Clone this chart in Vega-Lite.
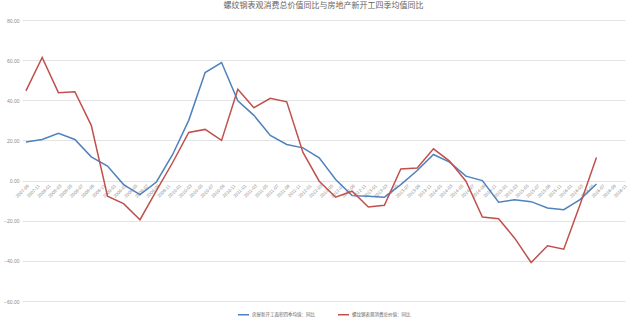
{
  "$schema": "https://vega.github.io/schema/vega-lite/v6.json",
  "width": 603,
  "height": 281,
  "autosize": {"type": "none"},
  "padding": {"left": 22, "top": 20, "right": 15, "bottom": 20},
  "background": "white",
  "title": {"text": "螺纹钢表观消费总价值同比与房地产新开工四季均值同比", "fontSize": 8, "font": "Noto Sans CJK SC", "fontWeight": "normal", "color": "#666666", "offset": 8},
  "data": {"values": [
    {"date": "2007-09-01", "房屋新开工面积四季均值：同比": 19.2, "螺纹钢表观消费总价值：同比": 44.7},
    {"date": "2007-12-01", "房屋新开工面积四季均值：同比": 20.5, "螺纹钢表观消费总价值：同比": 61.3},
    {"date": "2008-03-01", "房屋新开工面积四季均值：同比": 23.5, "螺纹钢表观消费总价值：同比": 43.8},
    {"date": "2008-06-01", "房屋新开工面积四季均值：同比": 20.5, "螺纹钢表观消费总价值：同比": 44.3},
    {"date": "2008-09-01", "房屋新开工面积四季均值：同比": 11.8, "螺纹钢表观消费总价值：同比": 27.5},
    {"date": "2008-12-01", "房屋新开工面积四季均值：同比": 7.2, "螺纹钢表观消费总价值：同比": -7.8},
    {"date": "2009-03-01", "房屋新开工面积四季均值：同比": -2.0, "螺纹钢表观消费总价值：同比": -11.5},
    {"date": "2009-06-01", "房屋新开工面积四季均值：同比": -7.0, "螺纹钢表观消费总价值：同比": -19.5},
    {"date": "2009-09-01", "房屋新开工面积四季均值：同比": -0.7, "螺纹钢表观消费总价值：同比": -5.0},
    {"date": "2009-12-01", "房屋新开工面积四季均值：同比": 13.0, "螺纹钢表观消费总价值：同比": 9.0},
    {"date": "2010-03-01", "房屋新开工面积四季均值：同比": 30.0, "螺纹钢表观消费总价值：同比": 24.0},
    {"date": "2010-06-01", "房屋新开工面积四季均值：同比": 53.8, "螺纹钢表观消费总价值：同比": 25.5},
    {"date": "2010-09-01", "房屋新开工面积四季均值：同比": 58.8, "螺纹钢表观消费总价值：同比": 20.0},
    {"date": "2010-12-01", "房屋新开工面积四季均值：同比": 39.7, "螺纹钢表观消费总价值：同比": 45.5},
    {"date": "2011-03-01", "房屋新开工面积四季均值：同比": 32.5, "螺纹钢表观消费总价值：同比": 36.3},
    {"date": "2011-06-01", "房屋新开工面积四季均值：同比": 22.5, "螺纹钢表观消费总价值：同比": 41.0},
    {"date": "2011-09-01", "房屋新开工面积四季均值：同比": 18.0, "螺纹钢表观消费总价值：同比": 39.2},
    {"date": "2011-12-01", "房屋新开工面积四季均值：同比": 16.3, "螺纹钢表观消费总价值：同比": 14.0},
    {"date": "2012-03-01", "房屋新开工面积四季均值：同比": 11.3, "螺纹钢表观消费总价值：同比": -0.3},
    {"date": "2012-06-01", "房屋新开工面积四季均值：同比": 0.5, "螺纹钢表观消费总价值：同比": -8.3},
    {"date": "2012-09-01", "房屋新开工面积四季均值：同比": -7.5, "螺纹钢表观消费总价值：同比": -5.3},
    {"date": "2012-12-01", "房屋新开工面积四季均值：同比": -7.8, "螺纹钢表观消费总价值：同比": -13.2},
    {"date": "2013-03-01", "房屋新开工面积四季均值：同比": -8.3, "螺纹钢表观消费总价值：同比": -12.3},
    {"date": "2013-06-01", "房屋新开工面积四季均值：同比": -2.0, "螺纹钢表观消费总价值：同比": 5.8},
    {"date": "2013-09-01", "房屋新开工面积四季均值：同比": 5.0, "螺纹钢表观消费总价值：同比": 6.3},
    {"date": "2013-12-01", "房屋新开工面积四季均值：同比": 13.0, "螺纹钢表观消费总价值：同比": 15.8},
    {"date": "2014-03-01", "房屋新开工面积四季均值：同比": 9.2, "螺纹钢表观消费总价值：同比": 9.7},
    {"date": "2014-06-01", "房屋新开工面积四季均值：同比": 2.2, "螺纹钢表观消费总价值：同比": -0.3},
    {"date": "2014-09-01", "房屋新开工面积四季均值：同比": 0.0, "螺纹钢表观消费总价值：同比": -18.2},
    {"date": "2014-12-01", "房屋新开工面积四季均值：同比": -10.8, "螺纹钢表观消费总价值：同比": -19.0},
    {"date": "2015-03-01", "房屋新开工面积四季均值：同比": -9.5, "螺纹钢表观消费总价值：同比": -28.7},
    {"date": "2015-06-01", "房屋新开工面积四季均值：同比": -10.5, "螺纹钢表观消费总价值：同比": -40.8},
    {"date": "2015-09-01", "房屋新开工面积四季均值：同比": -13.7, "螺纹钢表观消费总价值：同比": -32.5},
    {"date": "2015-12-01", "房屋新开工面积四季均值：同比": -14.5, "螺纹钢表观消费总价值：同比": -34.2},
    {"date": "2016-03-01", "房屋新开工面积四季均值：同比": -9.5, "螺纹钢表观消费总价值：同比": -12.0},
    {"date": "2016-06-01", "房屋新开工面积四季均值：同比": -1.7, "螺纹钢表观消费总价值：同比": 11.5}
  ]},
  "transform": [
    {"fold": ["房屋新开工面积四季均值：同比", "螺纹钢表观消费总价值：同比"], "as": ["series", "value"]}
  ],
  "mark": {"type": "line", "strokeWidth": 1.5},
  "encoding": {
    "x": {
      "field": "date", "type": "temporal",
      "scale": {"type": "utc", "domain": [{"year": 2007, "month": 8, "date": 10, "utc": true}, {"year": 2016, "month": 11, "date": 8, "utc": true}]},
      "axis": {"labelExpr": "utcFormat(datum.value, '%Y-%m')", "tickCount": {"interval": "month", "step": 2}, "labelAngle": -45, "labelFontSize": 4.5, "labelColor": "#8c8c8c", "labelOverlap": false, "labelFlush": false, "labelBound": false, "grid": false, "ticks": false, "domain": false, "offset": -120, "title": null, "labelPadding": 2}
    },
    "y": {
      "field": "value", "type": "quantitative",
      "scale": {"domain": [-60, 80], "nice": false},
      "axis": {"values": [-60, -40, -20, 0, 20, 40, 60, 80], "format": ".2f", "labelFontSize": 5, "labelColor": "#8c8c8c", "grid": true, "gridColor": "#e3e3e3", "domain": false, "ticks": false, "title": null, "labelPadding": 3}
    },
    "color": {
      "field": "series", "type": "nominal",
      "scale": {"domain": ["房屋新开工面积四季均值：同比", "螺纹钢表观消费总价值：同比"], "range": ["#4F81BD", "#C0504D"]},
      "legend": {"orient": "none", "legendX": 215, "legendY": 288, "direction": "horizontal", "title": null, "symbolType": "stroke", "symbolSize": 121, "symbolStrokeWidth": 1.5, "labelFontSize": 4.5, "labelFont": "Noto Sans CJK SC", "labelColor": "#666666", "columnPadding": 20, "labelOffset": 2}
    }
  },
  "config": {"view": {"stroke": null}}
}
